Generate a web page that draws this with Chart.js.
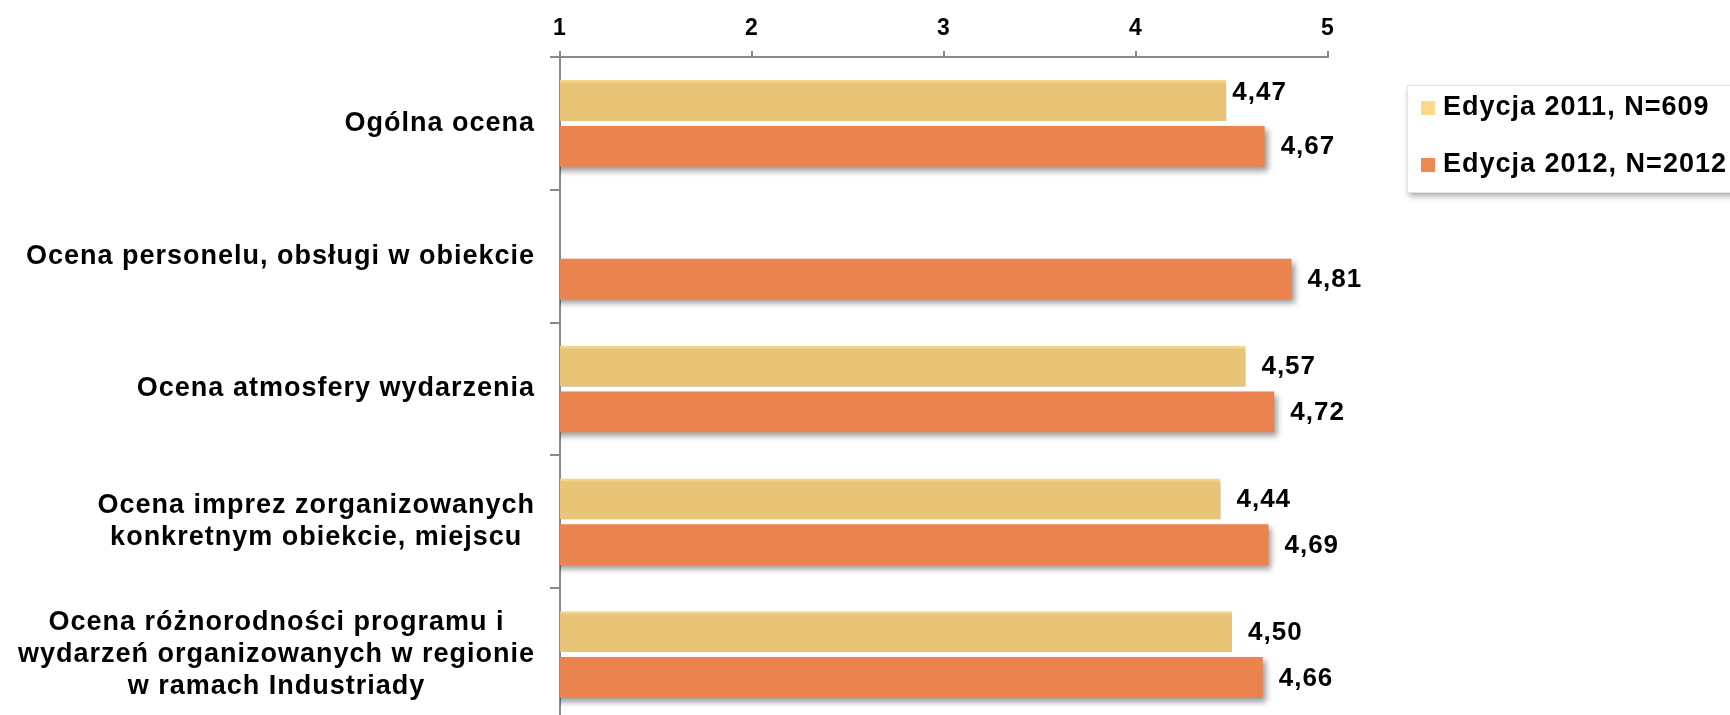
<!DOCTYPE html>
<html>
<head>
<meta charset="utf-8">
<script src="https://cdn.jsdelivr.net/npm/chart.js@4"></script>
<style>
  html, body { margin: 0; padding: 0; overflow: hidden; background: #fff; }
  #wrap { width: 1730px; height: 722px; position: relative; }
</style>
</head>
<body>
<div id="wrap"><canvas id="chart-ratings"></canvas></div>
<script>
var categories = [
  ["Ogólna ocena"],
  ["Ocena personelu, obsługi w obiekcie"],
  ["Ocena atmosfery wydarzenia"],
  ["Ocena imprez zorganizowanych", "konkretnym obiekcie, miejscu"],
  ["Ocena różnorodności programu i", "wydarzeń organizowanych w regionie", "w ramach Industriady"],
];
var values2011 = [4.47, null, 4.57, 4.44, 4.50];
var values2012 = [4.67, 4.81, 4.72, 4.69, 4.66];
var seriesNames = ["Edycja 2011, N=609", "Edycja 2012, N=2012"];
var xTicks = [1, 2, 3, 4, 5];

var FONT = "'Liberation Sans', Arial, sans-serif";
var AXIS = "#898989";

Chart.defaults.font.family = FONT;
Chart.defaults.color = "#000";

var spacingPlugin = {
  id: "spacing",
  beforeDraw: function (chart) {
    chart.ctx.letterSpacing = "1px";
  },
};

var shadowPlugin = {
  id: "barShadow",
  beforeDatasetsDraw: function (chart) {
    var ctx = chart.ctx;
    ctx.save();
    ctx.shadowColor = "rgba(0, 0, 0, 0.4)";
    ctx.shadowBlur = 6;
    ctx.shadowOffsetX = 3;
    ctx.shadowOffsetY = 4;
  },
  afterDatasetsDraw: function (chart) {
    chart.ctx.restore();
  },
};

// the first label in the original sits closer to its bar, a bit higher
function labelNudge(ds, idx) {
  if (ds === 0 && idx === 0) return { dx: -10, dy: -9 };
  return { dx: 0, dy: 0 };
}

var valueLabels = {
  id: "valueLabels",
  afterDatasetsDraw: function (chart) {
    var ctx = chart.ctx;
    ctx.save();
    ctx.font = "bold 26px " + FONT;
    ctx.fillStyle = "#000";
    ctx.textAlign = "left";
    ctx.textBaseline = "middle";
    chart.data.datasets.forEach(function (ds, i) {
      var meta = chart.getDatasetMeta(i);
      meta.data.forEach(function (bar, j) {
        var v = ds.data[j];
        if (v == null) return;
        var n = labelNudge(i, j);
        ctx.fillText(v.toFixed(2).replace(".", ","), bar.x + 16 + n.dx, bar.y + 1 + n.dy);
      });
    });
    ctx.restore();
  },
};

var categoryLabels = {
  id: "categoryLabels",
  afterDraw: function (chart) {
    var ctx = chart.ctx;
    var scale = chart.scales.y;
    var right = chart.chartArea.left - 25;
    var lineH = 32;
    ctx.save();
    ctx.font = "bold 27px " + FONT;
    ctx.fillStyle = "#000";
    ctx.textAlign = "center";
    ctx.textBaseline = "middle";
    categories.forEach(function (lines, i) {
      var y0 = scale.getPixelForTick(i);
      var maxW = 0;
      lines.forEach(function (l) { maxW = Math.max(maxW, ctx.measureText(l).width); });
      var cx = right - maxW / 2;
      lines.forEach(function (l, j) {
        ctx.fillText(l, cx, y0 + (j - (lines.length - 1) / 2) * lineH);
      });
    });
    ctx.restore();
  },
};

var boxLegend = {
  id: "boxLegend",
  afterDraw: function (chart) {
    var ctx = chart.ctx;
    ctx.save();
    ctx.shadowColor = "rgba(0, 0, 0, 0.35)";
    ctx.shadowBlur = 6;
    ctx.shadowOffsetX = 2;
    ctx.shadowOffsetY = 4;
    ctx.fillStyle = "#fff";
    ctx.fillRect(1407, 85, 340, 107);
    ctx.restore();
    ctx.save();
    ctx.strokeStyle = "#e3e3e3";
    ctx.lineWidth = 1;
    ctx.strokeRect(1407.5, 85.5, 340, 107);
    ctx.font = "bold 27px " + FONT;
    ctx.textBaseline = "middle";
    ctx.textAlign = "left";
    var rows = [108, 165];
    var swatches = ["#FCD88A", "#EE8752"];
    chart.data.datasets.forEach(function (ds, i) {
      ctx.fillStyle = swatches[i];
      ctx.fillRect(1421, rows[i] - 7, 14, 14);
      ctx.fillStyle = "#000";
      ctx.fillText(ds.label, 1443, rows[i]);
    });
    ctx.restore();
  },
};

var ratingsData = {
  labels: categories,
  datasets: [
    {
      label: seriesNames[0],
      data: values2011,
      backgroundColor: "#E9C477",
      borderColor: "#F8D58B",
      borderWidth: { top: 3, right: 0, bottom: 0, left: 0 },
      borderSkipped: false,
      barPercentage: 0.89,
      categoryPercentage: 0.69,
    },
    {
      label: seriesNames[1],
      data: values2012,
      backgroundColor: "#EA834E",
      barPercentage: 0.89,
      categoryPercentage: 0.69,
    },
  ],
};

var ratingsOptions = {
  indexAxis: "y",
  responsive: true,
  maintainAspectRatio: false,
  animation: false,
  layout: {
    padding: { top: 0, left: 0, right: 402, bottom: 1 },
  },
  plugins: {
    legend: { display: false },
    tooltip: { enabled: false },
  },
  scales: {
    x: {
      position: "top",
      min: 1,
      max: 5,
      afterBuildTicks: function (s) {
        s.ticks = xTicks.map(function (v) { return { value: v }; });
      },
      afterFit: function (s) { s.height = 57; },
      ticks: {
        color: "#000",
        padding: 9,
        font: { size: 23, weight: "bold" },
      },
      grid: {
        drawOnChartArea: false,
        tickLength: 6,
        color: AXIS,
        lineWidth: 2,
      },
      border: { color: AXIS, width: 2 },
    },
    y: {
      afterFit: function (s) { s.width = 560; },
      ticks: { display: false },
      grid: {
        drawOnChartArea: false,
        tickLength: 10,
        color: AXIS,
        lineWidth: 2,
      },
      border: { color: AXIS, width: 2 },
    },
  },
};

new Chart("chart-ratings", {
  type: "bar",
  data: ratingsData,
  options: ratingsOptions,
  plugins: [spacingPlugin, shadowPlugin, valueLabels, categoryLabels, boxLegend],
});
</script>
</body>
</html>
